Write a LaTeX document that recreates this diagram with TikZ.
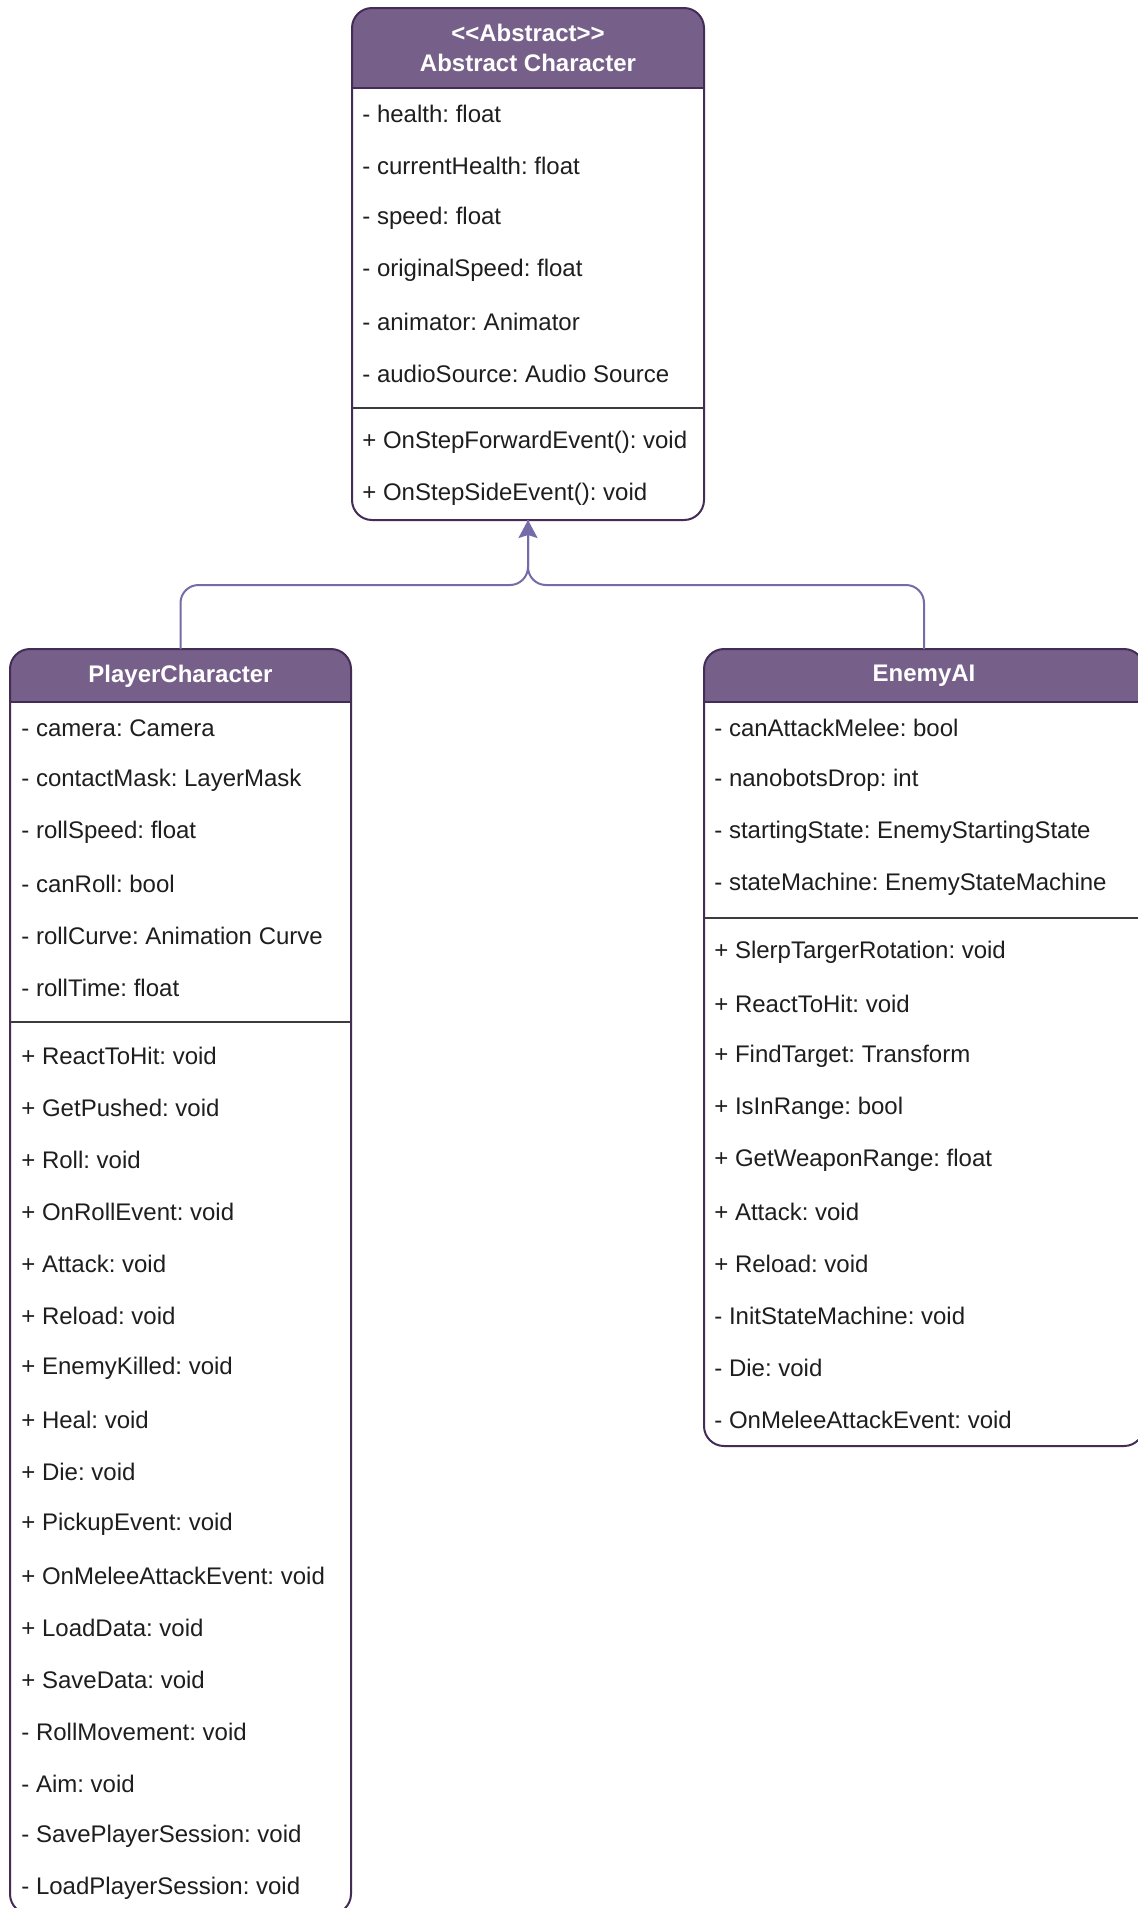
\documentclass[tikz,border=0pt]{standalone}
\usepackage{fontspec}
\setmainfont{Liberation Sans}
\frenchspacing
\usetikzlibrary{arrows.meta}
\definecolor{hdrfill}{HTML}{76608A}
\definecolor{hdrline}{HTML}{432D57}
\definecolor{connc}{HTML}{736CA8}
\definecolor{sepc}{HTML}{3C3C3C}
\definecolor{txtc}{HTML}{1E1E1E}
\tikzset{
  hdr/.style={fill=hdrfill},
  boxol/.style={draw=hdrline, line width=1pt, rounded corners=10pt, inner sep=0pt, outer sep=0pt, anchor=north west},
  hline/.style={draw=hdrline, line width=1pt},
  sepline/.style={draw=sepc, line width=1.1pt},
  attr/.style={anchor=west, inner sep=0pt, text=txtc, font=\fontsize{12}{14}\selectfont\frenchspacing},
  ttl/.style={inner sep=0pt, text=white, align=center, font=\fontsize{12}{15}\selectfont\bfseries},
  conn/.style={draw=connc, line width=1pt},
}
\begin{document}
\begin{tikzpicture}[x=0.5pt,y=-0.5pt]
\fill[white] (0,0) rectangle (1137,1908);
\useasboundingbox (0,0) rectangle (1137,1908);
% ---------- header fills
\begin{scope}
  \clip (352,8) rectangle (704,88);
  \fill[hdr, rounded corners=10pt] (352,8) rectangle (704,140);
\end{scope}
\begin{scope}
  \clip (10,649) rectangle (351,702);
  \fill[hdr, rounded corners=10pt] (10,649) rectangle (351,760);
\end{scope}
\begin{scope}
  \clip (704,649) rectangle (1144,702);
  \fill[hdr, rounded corners=10pt] (704,649) rectangle (1144,760);
\end{scope}
% ---------- box outlines
\node[boxol, minimum width=176pt, minimum height=256pt] (abs) at (352,8) {};
\node[boxol, minimum width=170.5pt, minimum height=632.5pt] (pc) at (10,649) {};
\node[boxol, minimum width=220pt, minimum height=398.5pt] (en) at (704,649) {};
% ---------- header lines and separators
\draw[hline] (352,88) -- (704,88);
\draw[hline] (10,702) -- (351,702);
\draw[hline] (704,702) -- (1144,702);
\draw[sepline] (352,408) -- (704,408);
\draw[sepline] (10,1022) -- (351,1022);
\draw[sepline] (704,918) -- (1144,918);
% ---------- titles
\node[ttl] (abs-t) at (528,48) {<{}<Abstract>{}>\\Abstract Character};
\node[ttl] (pc-t) at (180.5,676) {PlayerCharacter};
\node[ttl] (en-t) at (924,676) {EnemyAI};
% ---------- Abstract Character
\foreach \t [count=\i from 0] in {- health: float, - currentHealth: float, - speed: float, - originalSpeed: float, - animator: Animator, - audioSource: Audio Source}
  \node[attr] (abs-a\i) at (362,{114+52*\i}) {\t};
\foreach \t [count=\i from 0] in {+ OnStepForwardEvent(): void, + OnStepSideEvent(): void}
  \node[attr] (abs-m\i) at (362,{442+52*\i}) {\t};
% ---------- PlayerCharacter
\foreach \t [count=\i from 0] in {- camera: Camera, - contactMask: LayerMask, - rollSpeed: float, - canRoll: bool, - rollCurve: Animation Curve, - rollTime: float}
  \node[attr] (pc-a\i) at (21,{728+52*\i}) {\t};
\foreach \t [count=\i from 0] in {+ ReactToHit: void, + GetPushed: void, + Roll: void, + OnRollEvent: void, + Attack: void, + Reload: void, + EnemyKilled: void, + Heal: void, + Die: void, + PickupEvent: void, + OnMeleeAttackEvent: void, + LoadData: void, + SaveData: void, - RollMovement: void, - Aim: void, - SavePlayerSession: void, - LoadPlayerSession: void}
  \node[attr] (pc-m\i) at (21,{1056+52*\i}) {\t};
% ---------- EnemyAI
\foreach \t [count=\i from 0] in {- canAttackMelee: bool, - nanobotsDrop: int, - startingState: EnemyStartingState, - stateMachine: EnemyStateMachine}
  \node[attr] (en-a\i) at (714,{728+52*\i}) {\t};
\foreach \t [count=\i from 0] in {+ SlerpTargerRotation: void, + ReactToHit: void, + FindTarget: Transform, + IsInRange: bool, + GetWeaponRange: float, + Attack: void, + Reload: void, - InitStateMachine: void, - Die: void, - OnMeleeAttackEvent: void}
  \node[attr] (en-m\i) at (714,{952+52*\i}) {\t};
% ---------- connectors
\coordinate (jn) at (528,585);
\draw[conn] [rounded corners=9pt] (en.north) |- (jn) [rounded corners=4pt] -- (abs.south);
\draw[conn, -{Stealth[length=9pt,width=9.5pt,inset=1.5pt]}] [rounded corners=9pt] (pc.north) |- (jn) [rounded corners=4pt] -- (abs.south);
\end{tikzpicture}
\end{document}
